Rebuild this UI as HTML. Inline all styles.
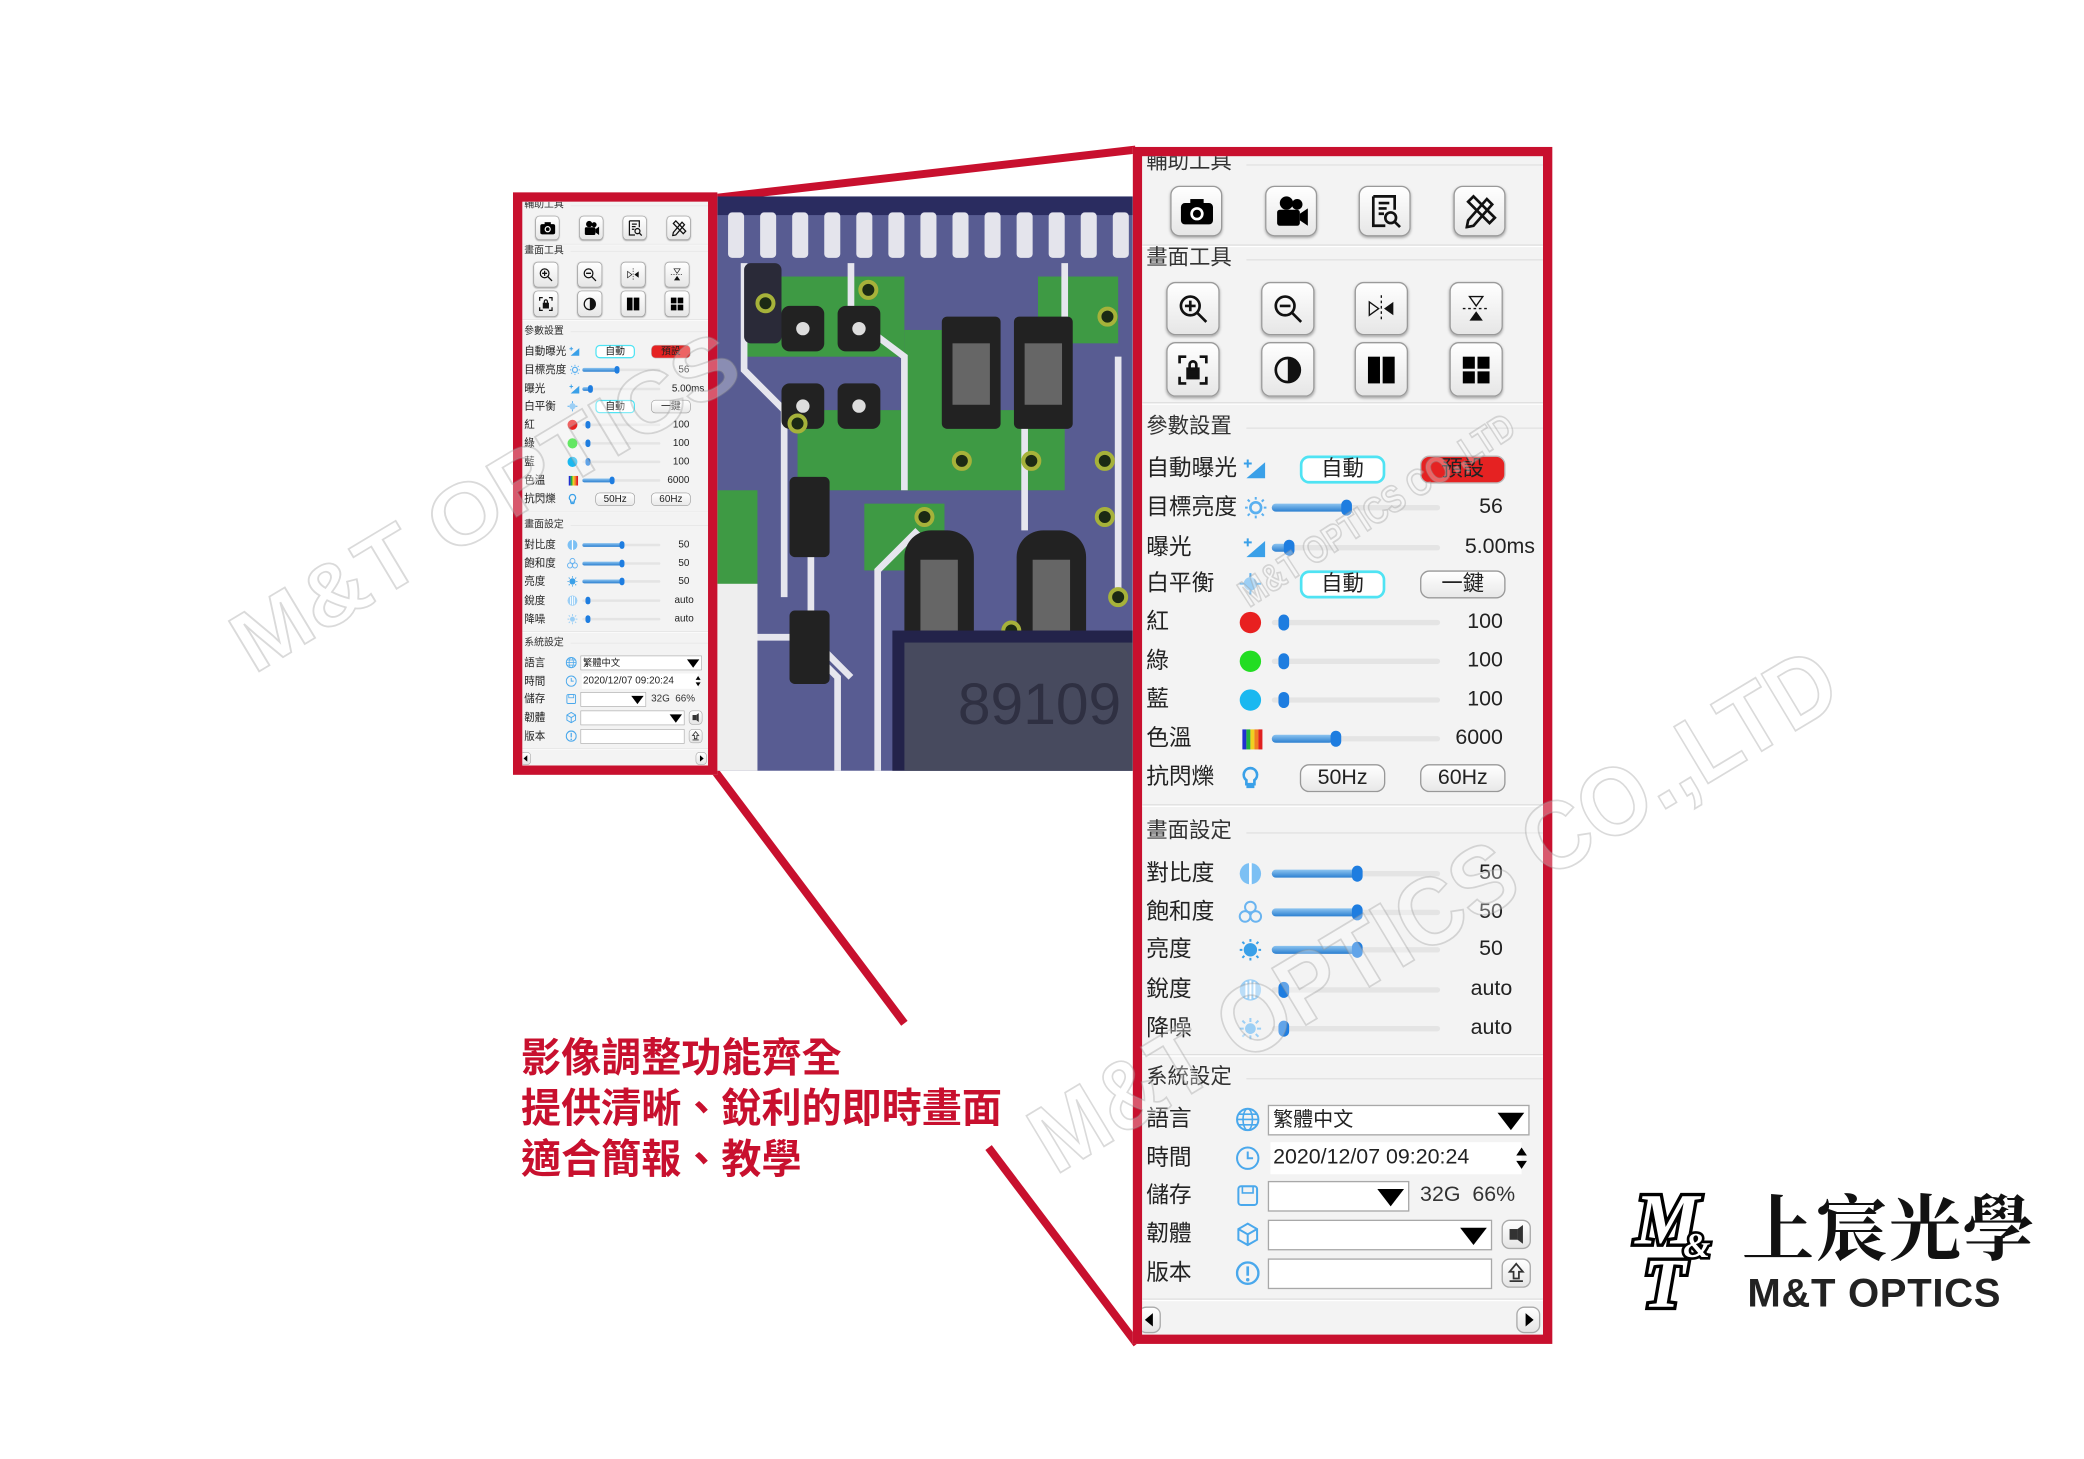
<!DOCTYPE html>
<html><head><meta charset="utf-8">
<style>
*{margin:0;padding:0;box-sizing:border-box}
html,body{width:2084px;height:1459px;overflow:hidden;background:#fff}
#wrap{position:absolute;left:0;top:0;width:1560px;height:1092px;transform:scale(1.335897);transform-origin:0 0;font-family:"Liberation Sans","Noto Sans CJK TC",sans-serif}
.abs{position:absolute}
.pnl{position:absolute;width:300px;height:882px;background:#f3f3f3;overflow:hidden;color:#222}
.sec{position:absolute;left:3px;font-size:16px;line-height:20px;color:#333;font-family:"Liberation Sans","Noto Sans CJK TC",sans-serif}
.hl{position:absolute;left:78px;right:0;height:1px;background:#e2e2e2}
.sep{position:absolute;left:0;right:0;height:2px;border-top:1px solid #ddd;border-bottom:1px solid #fff}
.tb{position:absolute;border:1px solid #9a9a9a;border-radius:7px;background:linear-gradient(#fff,#e6e6e6);box-shadow:0 1px 2px #aaa;display:flex;align-items:center;justify-content:center}
.r{position:absolute;left:0;width:300px;height:24px}
.lb{position:absolute;left:3px;top:0;font-size:17px;line-height:24px;color:#222;font-family:"Liberation Sans","Noto Sans CJK TC",sans-serif}
.ic{position:absolute;left:72px;top:3px;width:18px;height:18px}
.tr{position:absolute;left:97px;top:10px;width:126px;height:4px;background:#e4e4e4;border-radius:2px}
.fl{position:absolute;left:97px;top:9px;height:6px;background:linear-gradient(#8cc4f0,#2b7fd0);border-radius:3px}
.th{position:absolute;top:6px;width:8px;height:12px;background:#1e7de0;border-radius:4px}
.v{position:absolute;right:30px;top:0;font-size:16px;line-height:24px;color:#222}
.bt{position:absolute;top:2px;height:21px;width:64px;border:1px solid #999;border-radius:7px;background:linear-gradient(#fff,#e8e8e8);font-size:16px;line-height:19px;text-align:center;font-family:"Liberation Sans","Noto Sans CJK TC",sans-serif}
.bc{border:2px solid #4fe3f3;background:#fff;line-height:17px}
.br{background:#e52222;border-color:#bbb}
.dot{position:absolute;left:73px;top:4px;width:16px;height:16px;border-radius:50%}
.dd{position:absolute;top:1px;height:23px;border:1px solid #a8a8a8;background:#fff;font-size:15px;line-height:21px;padding-left:3px}
.tri{position:absolute;right:3px;top:5px;width:0;height:0;border-left:10px solid transparent;border-right:10px solid transparent;border-top:13px solid #000}
.sb{position:absolute;top:1px;width:22px;height:22px;border:1px solid #aaa;border-radius:6px;background:linear-gradient(#fff,#e5e5e5)}
.red{position:absolute;left:390px;top:774px;font-size:30px;line-height:38px;color:#c8102e;font-weight:bold;font-family:"Liberation Sans","Noto Sans CJK TC",sans-serif;white-space:nowrap}
</style></head><body>
<div id="wrap">

<svg class="abs" style="left:0;top:0" width="1560" height="1092">
<line x1="537" y1="148" x2="850" y2="112" stroke="#c8102e" stroke-width="6"/>
<line x1="535" y1="577" x2="677" y2="766" stroke="#c8102e" stroke-width="6"/>
<line x1="740" y1="859" x2="851" y2="1006" stroke="#c8102e" stroke-width="6"/>
</svg>

<!-- photo -->
<svg class="abs" style="left:537px;top:147px" width="311" height="430" viewBox="0 0 311 430">
<rect width="311" height="430" fill="#585c92"/>
<rect width="311" height="14" fill="#2a2c60"/>
<g fill="#e4e4ec"><rect x="8" y="12" width="12" height="34" rx="3"/><rect x="32" y="12" width="12" height="34" rx="3"/><rect x="56" y="12" width="12" height="34" rx="3"/><rect x="80" y="12" width="12" height="34" rx="3"/><rect x="104" y="12" width="12" height="34" rx="3"/><rect x="128" y="12" width="12" height="34" rx="3"/><rect x="152" y="12" width="12" height="34" rx="3"/><rect x="176" y="12" width="12" height="34" rx="3"/><rect x="200" y="12" width="12" height="34" rx="3"/><rect x="224" y="12" width="12" height="34" rx="3"/><rect x="248" y="12" width="12" height="34" rx="3"/><rect x="272" y="12" width="12" height="34" rx="3"/><rect x="296" y="12" width="12" height="34" rx="3"/></g>
<g fill="#3e9a44"><rect x="20" y="60" width="120" height="60"/><rect x="60" y="160" width="200" height="60"/><rect x="140" y="100" width="40" height="120"/><rect x="0" y="220" width="30" height="80"/><rect x="240" y="60" width="60" height="50"/><rect x="110" y="230" width="60" height="50"/></g>
<g fill="none" stroke="#e6e6ee" stroke-width="5"><path d="M20 50 L20 130 L50 160 L50 300"/><path d="M100 50 V90 L140 120 V220"/><path d="M260 50 V140 L230 170 V250"/><path d="M0 330 H60 L90 360 V430"/><path d="M150 250 L120 280 V430"/><path d="M300 120 V300"/><path d="M70 230 V330 L100 360"/></g>
<rect x="0" y="290" width="30" height="140" fill="#eee"/>
<rect x="20" y="50" width="28" height="60" rx="5" fill="#2a2a38"/>
<g fill="#222"><rect x="48" y="82" width="32" height="34" rx="6"/><rect x="90" y="82" width="32" height="34" rx="6"/><rect x="48" y="140" width="32" height="34" rx="6"/><rect x="90" y="140" width="32" height="34" rx="6"/><rect x="168" y="90" width="44" height="84" rx="4"/><rect x="222" y="90" width="44" height="84" rx="4"/><rect x="54" y="210" width="30" height="60" rx="4"/><rect x="140" y="250" width="52" height="95" rx="20"/><rect x="224" y="250" width="52" height="95" rx="20"/><rect x="54" y="310" width="30" height="55" rx="4"/></g>
<g fill="#666"><rect x="176" y="110" width="28" height="46"/><rect x="230" y="110" width="28" height="46"/><rect x="152" y="272" width="28" height="58"/><rect x="236" y="272" width="28" height="58"/></g>
<g fill="#ddd"><circle cx="64" cy="99" r="5"/><circle cx="106" cy="99" r="5"/><circle cx="64" cy="157" r="5"/><circle cx="106" cy="157" r="5"/></g>
<g fill="#1b2a14" stroke="#a6b23a" stroke-width="3"><circle cx="36" cy="80" r="6"/><circle cx="113" cy="70" r="6"/><circle cx="292" cy="90" r="6"/><circle cx="183" cy="198" r="6"/><circle cx="235" cy="198" r="6"/><circle cx="290" cy="198" r="6"/><circle cx="155" cy="240" r="6"/><circle cx="220" cy="325" r="6"/><circle cx="290" cy="240" r="6"/><circle cx="60" cy="170" r="6"/><circle cx="300" cy="300" r="6"/></g>
<rect x="131" y="325" width="180" height="105" fill="#23234a"/>
<rect x="140" y="334" width="171" height="96" fill="#474a5e"/>
<text x="180" y="395" font-size="44" fill="#2f3042" font-family="Liberation Sans">89109</text>
</svg>

<!-- small panel -->
<div class="abs" style="left:384px;top:144px;width:153px;height:436px;border:7px solid #c8102e;background:#f3f3f3;overflow:hidden">
<div id="smallhost" style="position:absolute;left:0;top:0;transform:scale(0.4633,0.4785);transform-origin:0 0"></div>
</div>

<!-- big panel -->
<div class="abs" style="left:848px;top:110px;width:314px;height:896px;border:7px solid #c8102e;background:#f3f3f3"></div>

<div id="bigp" class="pnl" style="left:855px;top:117px">
 <div class="sec" style="top:-5px">輔助工具</div><div class="hl" style="top:6px"></div>
 <div class="tb" style="left:21px;top:22px;width:39px;height:38px"><svg width="26" height="22"><rect x="1" y="5" width="24" height="16" rx="3"/><rect x="8" y="2" width="10" height="5"/><circle cx="13" cy="13" r="5" fill="#fff"/><circle cx="13" cy="13" r="3"/></svg></div>
 <div class="tb" style="left:92px;top:22px;width:39px;height:38px"><svg width="26" height="24"><circle cx="9" cy="6" r="5"/><circle cx="17" cy="7" r="4"/><rect x="2" y="11" width="17" height="12" rx="2"/><path d="M19 14 L25 10 V23 L19 19Z"/></svg></div>
 <div class="tb" style="left:162px;top:22px;width:39px;height:38px"><svg width="24" height="26" fill="none" stroke="#111" stroke-width="2"><path d="M3 2 H19 V12 M3 2 V24 H12"/><path d="M7 7 H15 M7 11 H13 M7 15 H11"/><circle cx="16" cy="18" r="4"/><path d="M19 21 L23 25"/></svg></div>
 <div class="tb" style="left:233px;top:22px;width:39px;height:38px"><svg width="26" height="26" fill="none" stroke="#111" stroke-width="2"><path d="M4 20 L18 4 L22 8 L8 24 L3 25Z"/><path d="M4 6 L8 2 L24 18 L20 22Z"/></svg></div>
 <div class="sep" style="top:66px"></div>
 <div class="sec" style="top:67px">畫面工具</div><div class="hl" style="top:77px"></div>
 <div class="tb" style="left:18px;top:94px;width:40px;height:40px"><svg width="24" height="24" fill="none" stroke="#111" stroke-width="2"><circle cx="10" cy="10" r="7"/><path d="M15 15 L22 22 M10 6 V14 M6 10 H14"/></svg></div>
 <div class="tb" style="left:89px;top:94px;width:40px;height:40px"><svg width="24" height="24" fill="none" stroke="#111" stroke-width="2"><circle cx="10" cy="10" r="7"/><path d="M15 15 L22 22 M6 10 H14"/></svg></div>
 <div class="tb" style="left:159px;top:94px;width:40px;height:40px"><svg width="24" height="24"><path d="M12 2 V22" stroke="#111" stroke-dasharray="2 2"/><path d="M3 7 L10 12 L3 17Z" fill="none" stroke="#111"/><path d="M21 7 L14 12 L21 17Z" fill="#111"/></svg></div>
 <div class="tb" style="left:230px;top:94px;width:40px;height:40px"><svg width="24" height="24"><path d="M2 12 H22" stroke="#111" stroke-dasharray="2 2"/><path d="M7 3 L12 10 L17 3Z" fill="none" stroke="#111"/><path d="M7 21 L12 14 L17 21Z" fill="#111"/></svg></div>
 <div class="tb" style="left:18px;top:139px;width:40px;height:41px"><svg width="24" height="24" fill="none" stroke="#111" stroke-width="2"><path d="M2 7 V2 H7 M17 2 H22 V7 M22 17 V22 H17 M7 22 H2 V17"/><rect x="8" y="11" width="8" height="7" fill="#111"/><path d="M9.5 11 V8 A2.5 2.5 0 0 1 14.5 8 V11"/></svg></div>
 <div class="tb" style="left:89px;top:139px;width:40px;height:41px"><svg width="24" height="24"><circle cx="12" cy="12" r="9" fill="none" stroke="#111" stroke-width="2"/><path d="M12 3 A9 9 0 0 1 12 21Z" fill="#111"/></svg></div>
 <div class="tb" style="left:159px;top:139px;width:40px;height:41px"><svg width="24" height="24"><rect x="2" y="2" width="9" height="20"/><rect x="13" y="2" width="9" height="20"/></svg></div>
 <div class="tb" style="left:230px;top:139px;width:40px;height:41px"><svg width="24" height="24"><rect x="2" y="2" width="9" height="9"/><rect x="13" y="2" width="9" height="9"/><rect x="2" y="13" width="9" height="9"/><rect x="13" y="13" width="9" height="9"/></svg></div>
 <div class="sep" style="top:184px"></div>
 <div class="sec" style="top:193px">參數設置</div><div class="hl" style="top:203px"></div>

 <div class="r" style="top:222px"><div class="lb">自動曝光</div><svg class="ic" style="left:76px"><path d="M2 16 L16 4 V16Z" fill="#3aa0e8"/><path d="M3 2 V8 M0 5 H6" stroke="#3aa0e8" stroke-width="1.5"/></svg><div class="bt bc" style="left:118px">自動</div><div class="bt br" style="left:208px">預設</div></div>
 <div class="r" style="top:251px"><div class="lb">目標亮度</div><svg class="ic" style="left:76px"><circle cx="9" cy="9" r="4" fill="none" stroke="#5ab0f0" stroke-width="2"/><path d="M9 1V3M9 15V17M1 9H3M15 9H17M3 3L4.5 4.5M13.5 13.5L15 15M15 3L13.5 4.5M3 15L4.5 13.5" stroke="#5ab0f0" stroke-width="1.5"/></svg><div class="tr"></div><div class="fl" style="width:56px"></div><div class="th" style="left:149px"></div><div class="v">56</div></div>
 <div class="r" style="top:281px"><div class="lb">曝光</div><svg class="ic" style="left:76px"><path d="M2 16 L16 4 V16Z" fill="#3aa0e8"/><path d="M3 2 V8 M0 5 H6" stroke="#3aa0e8" stroke-width="1.5"/></svg><div class="tr"></div><div class="fl" style="width:12px"></div><div class="th" style="left:106px"></div><div class="v" style="right:6px">5.00ms</div></div>
 <div class="r" style="top:308px"><div class="lb">白平衡</div><svg class="ic"><circle cx="9" cy="9" r="5" fill="#9ccff5"/><path d="M9 1V4M9 14V17M1 9H4M14 9H17" stroke="#5ab0f0" stroke-width="1.5"/></svg><div class="bt bc" style="left:118px">自動</div><div class="bt" style="left:208px">一鍵</div></div>
 <div class="r" style="top:337px"><div class="lb">紅</div><div class="dot" style="background:#e82020"></div><div class="tr"></div><div class="th" style="left:102px"></div><div class="v">100</div></div>
 <div class="r" style="top:366px"><div class="lb">綠</div><div class="dot" style="background:#22dd22"></div><div class="tr"></div><div class="th" style="left:102px"></div><div class="v">100</div></div>
 <div class="r" style="top:395px"><div class="lb">藍</div><div class="dot" style="background:#1ab8f0"></div><div class="tr"></div><div class="th" style="left:102px"></div><div class="v">100</div></div>
 <div class="r" style="top:424px"><div class="lb">色溫</div><svg class="ic" style="left:74px"><rect x="1" y="2" width="3" height="15" fill="#2030d0"/><rect x="4" y="2" width="3" height="15" fill="#20b040"/><rect x="7" y="2" width="3" height="15" fill="#f0d020"/><rect x="10" y="2" width="3" height="15" fill="#f08020"/><rect x="13" y="2" width="3" height="15" fill="#e02020"/></svg><div class="tr"></div><div class="fl" style="width:46px"></div><div class="th" style="left:141px"></div><div class="v">6000</div></div>
 <div class="r" style="top:453px"><div class="lb">抗閃爍</div><svg class="ic"><path d="M9 2 A5 5 0 0 1 12 11 V14 H6 V11 A5 5 0 0 1 9 2Z" fill="none" stroke="#3aa0e8" stroke-width="2"/><path d="M6 16 H12" stroke="#3aa0e8" stroke-width="2"/></svg><div class="bt" style="left:118px">50Hz</div><div class="bt" style="left:208px">60Hz</div></div>
 <div class="sep" style="top:485px"></div>
 <div class="sec" style="top:496px">畫面設定</div><div class="hl" style="top:506px"></div>
 <div class="r" style="top:525px"><div class="lb">對比度</div><svg class="ic"><circle cx="9" cy="9" r="8" fill="#7cc0f4"/><path d="M9 1 V17" stroke="#fff" stroke-width="2"/></svg><div class="tr"></div><div class="fl" style="width:64px"></div><div class="th" style="left:157px"></div><div class="v">50</div></div>
 <div class="r" style="top:554px"><div class="lb">飽和度</div><svg class="ic"><circle cx="9" cy="5" r="4" fill="none" stroke="#6ab4f0" stroke-width="1.5"/><circle cx="5" cy="12" r="4" fill="none" stroke="#6ab4f0" stroke-width="1.5"/><circle cx="13" cy="12" r="4" fill="none" stroke="#6ab4f0" stroke-width="1.5"/></svg><div class="tr"></div><div class="fl" style="width:64px"></div><div class="th" style="left:157px"></div><div class="v">50</div></div>
 <div class="r" style="top:582px"><div class="lb">亮度</div><svg class="ic"><circle cx="9" cy="9" r="5" fill="#3aa0e8"/><path d="M9 1V3M9 15V17M1 9H3M15 9H17M3 3L4.5 4.5M13.5 13.5L15 15M15 3L13.5 4.5M3 15L4.5 13.5" stroke="#3aa0e8" stroke-width="1.5"/></svg><div class="tr"></div><div class="fl" style="width:64px"></div><div class="th" style="left:157px"></div><div class="v">50</div></div>
 <div class="r" style="top:612px"><div class="lb">銳度</div><svg class="ic"><circle cx="9" cy="9" r="8" fill="#9ccff5"/><path d="M6 3 V15 M9 2 V16 M12 3 V15" stroke="#fff" stroke-width="1.5"/></svg><div class="tr"></div><div class="th" style="left:102px"></div><div class="v" style="right:23px">auto</div></div>
 <div class="r" style="top:641px"><div class="lb">降噪</div><svg class="ic"><circle cx="9" cy="9" r="4" fill="#9ccff5"/><path d="M9 1V4M9 14V17M1 9H4M14 9H17M3 3L5 5M13 13L15 15M15 3L13 5M3 15L5 13" stroke="#9ccff5" stroke-width="1.5"/></svg><div class="tr"></div><div class="th" style="left:102px"></div><div class="v" style="right:23px">auto</div></div>
 <div class="sep" style="top:672px"></div>
 <div class="sec" style="top:680px">系統設定</div><div class="hl" style="top:690px"></div>
 <div class="r" style="top:709px"><div class="lb">語言</div><svg class="ic" style="left:70px"><circle cx="9" cy="9" r="8" fill="none" stroke="#4aa8ec" stroke-width="1.5"/><ellipse cx="9" cy="9" rx="3.5" ry="8" fill="none" stroke="#4aa8ec" stroke-width="1.2"/><path d="M1 9H17M2 5H16M2 13H16" stroke="#4aa8ec" stroke-width="1.2"/></svg><div class="dd" style="left:94px;width:196px">繁體中文<div class="tri"></div></div></div>
 <div class="r" style="top:738px"><div class="lb">時間</div><svg class="ic" style="left:70px"><circle cx="9" cy="9" r="8" fill="none" stroke="#4aa8ec" stroke-width="1.5"/><path d="M9 4V9H13" fill="none" stroke="#4aa8ec" stroke-width="1.5"/></svg><div class="abs" style="left:96px;top:0;font-size:16px;line-height:24px;background:#fff;width:188px;padding-left:2px">2020/12/07 09:20:24</div><svg class="abs" style="left:278px;top:3px" width="12" height="18"><path d="M2 7 L6 1 L10 7Z M2 11 L6 17 L10 11Z"/></svg></div>
 <div class="r" style="top:766px"><div class="lb">儲存</div><svg class="ic" style="left:70px"><rect x="2" y="2" width="14" height="14" rx="2" fill="none" stroke="#4aa8ec" stroke-width="1.5"/><rect x="5" y="2" width="8" height="5" fill="none" stroke="#4aa8ec" stroke-width="1.2"/></svg><div class="dd" style="left:94px;width:106px"><div class="tri"></div></div><div class="abs" style="left:208px;top:0;font-size:16px;line-height:24px;color:#333">32G&nbsp;&nbsp;66%</div></div>
 <div class="r" style="top:795px"><div class="lb">韌體</div><svg class="ic" style="left:70px"><path d="M9 1 L16 5 V13 L9 17 L2 13 V5Z M2 5 L9 9 L16 5 M9 9 V17" fill="none" stroke="#4aa8ec" stroke-width="1.5"/></svg><div class="dd" style="left:94px;width:168px"><div class="tri"></div></div><div class="sb" style="left:269px"><svg width="20" height="20"><rect x="5" y="6" width="6" height="8" fill="#333"/><path d="M11 6 L15 3 V17 L11 14Z" fill="#333"/></svg></div></div>
 <div class="r" style="top:824px"><div class="lb">版本</div><svg class="ic" style="left:70px"><circle cx="9" cy="9" r="8" fill="none" stroke="#4aa8ec" stroke-width="1.8"/><path d="M9 4V11" stroke="#4aa8ec" stroke-width="2"/><circle cx="9" cy="14" r="1.3" fill="#4aa8ec"/></svg><div class="dd" style="left:94px;width:168px"></div><div class="sb" style="left:269px"><svg width="20" height="20"><path d="M10 3 L15 9 H12 V14 H8 V9 H5Z" fill="none" stroke="#333" stroke-width="1.3"/><path d="M5 16 H15" stroke="#333" stroke-width="1.3"/></svg></div></div>
 <div class="sep" style="top:855px"></div>
 <div class="sb" style="left:-3px;top:861px;width:17px;height:20px"><svg width="15" height="18"><path d="M10 4 L4 9 L10 14Z"/></svg></div>
 <div class="sb" style="left:280px;top:861px;width:18px;height:20px"><svg width="16" height="18"><path d="M6 4 L12 9 L6 14Z"/></svg></div>
</div>

<div class="red">影像調整功能齊全<br>提供清晰、銳利的即時畫面<br>適合簡報、教學</div>

<!-- logo -->
<div class="abs" style="left:1222px;top:886px;width:62px;height:104px">
 <div class="abs" style="left:2px;top:0;font:italic bold 54px/54px 'Liberation Serif',serif;color:#fff;-webkit-text-stroke:5px #000;paint-order:stroke fill;letter-spacing:-4px">M</div>
 <div class="abs" style="left:38px;top:34px;font:italic bold 26px/26px 'Liberation Serif',serif;color:#fff;-webkit-text-stroke:4px #000;paint-order:stroke fill">&amp;</div>
 <div class="abs" style="left:8px;top:50px;font:italic bold 52px/52px 'Liberation Serif',serif;color:#fff;-webkit-text-stroke:5px #000;paint-order:stroke fill">T</div>
</div>
<div class="abs" style="left:1304px;top:886px;font-size:54px;line-height:62px;font-weight:bold;color:#111;letter-spacing:1px;font-family:'Noto Serif CJK SC','Noto Sans CJK TC',serif">上宸光學</div>
<div class="abs" style="left:1308px;top:952px;font-size:30px;line-height:34px;font-weight:bold;color:#222;font-family:'Liberation Sans',sans-serif;letter-spacing:0.5px">M&amp;T OPTICS</div>

<!-- watermarks -->
<svg class="abs" style="left:0;top:0;pointer-events:none" width="1560" height="1092">
<g font-family="Liberation Sans" font-weight="bold" fill="rgba(255,255,255,0.3)" stroke="rgba(150,150,150,0.35)" stroke-width="1.3">
<text transform="translate(190,505) rotate(-31)" font-size="64" textLength="430" lengthAdjust="spacingAndGlyphs">M&amp;T OPTICS</text>
<text transform="translate(790,880) rotate(-31)" font-size="72" textLength="690" lengthAdjust="spacingAndGlyphs">M&amp;T OPTICS CO.,LTD</text>
<text transform="translate(935,455) rotate(-33)" font-size="28" textLength="240" lengthAdjust="spacingAndGlyphs">M&amp;T OPTICS CO.,LTD</text>
</g>
</svg>
</div>
<script>
(function(){var b=document.getElementById('bigp');var c=b.cloneNode(true);c.removeAttribute('id');c.style.left='0';c.style.top='0';document.getElementById('smallhost').appendChild(c);})();
</script>
</body></html>
